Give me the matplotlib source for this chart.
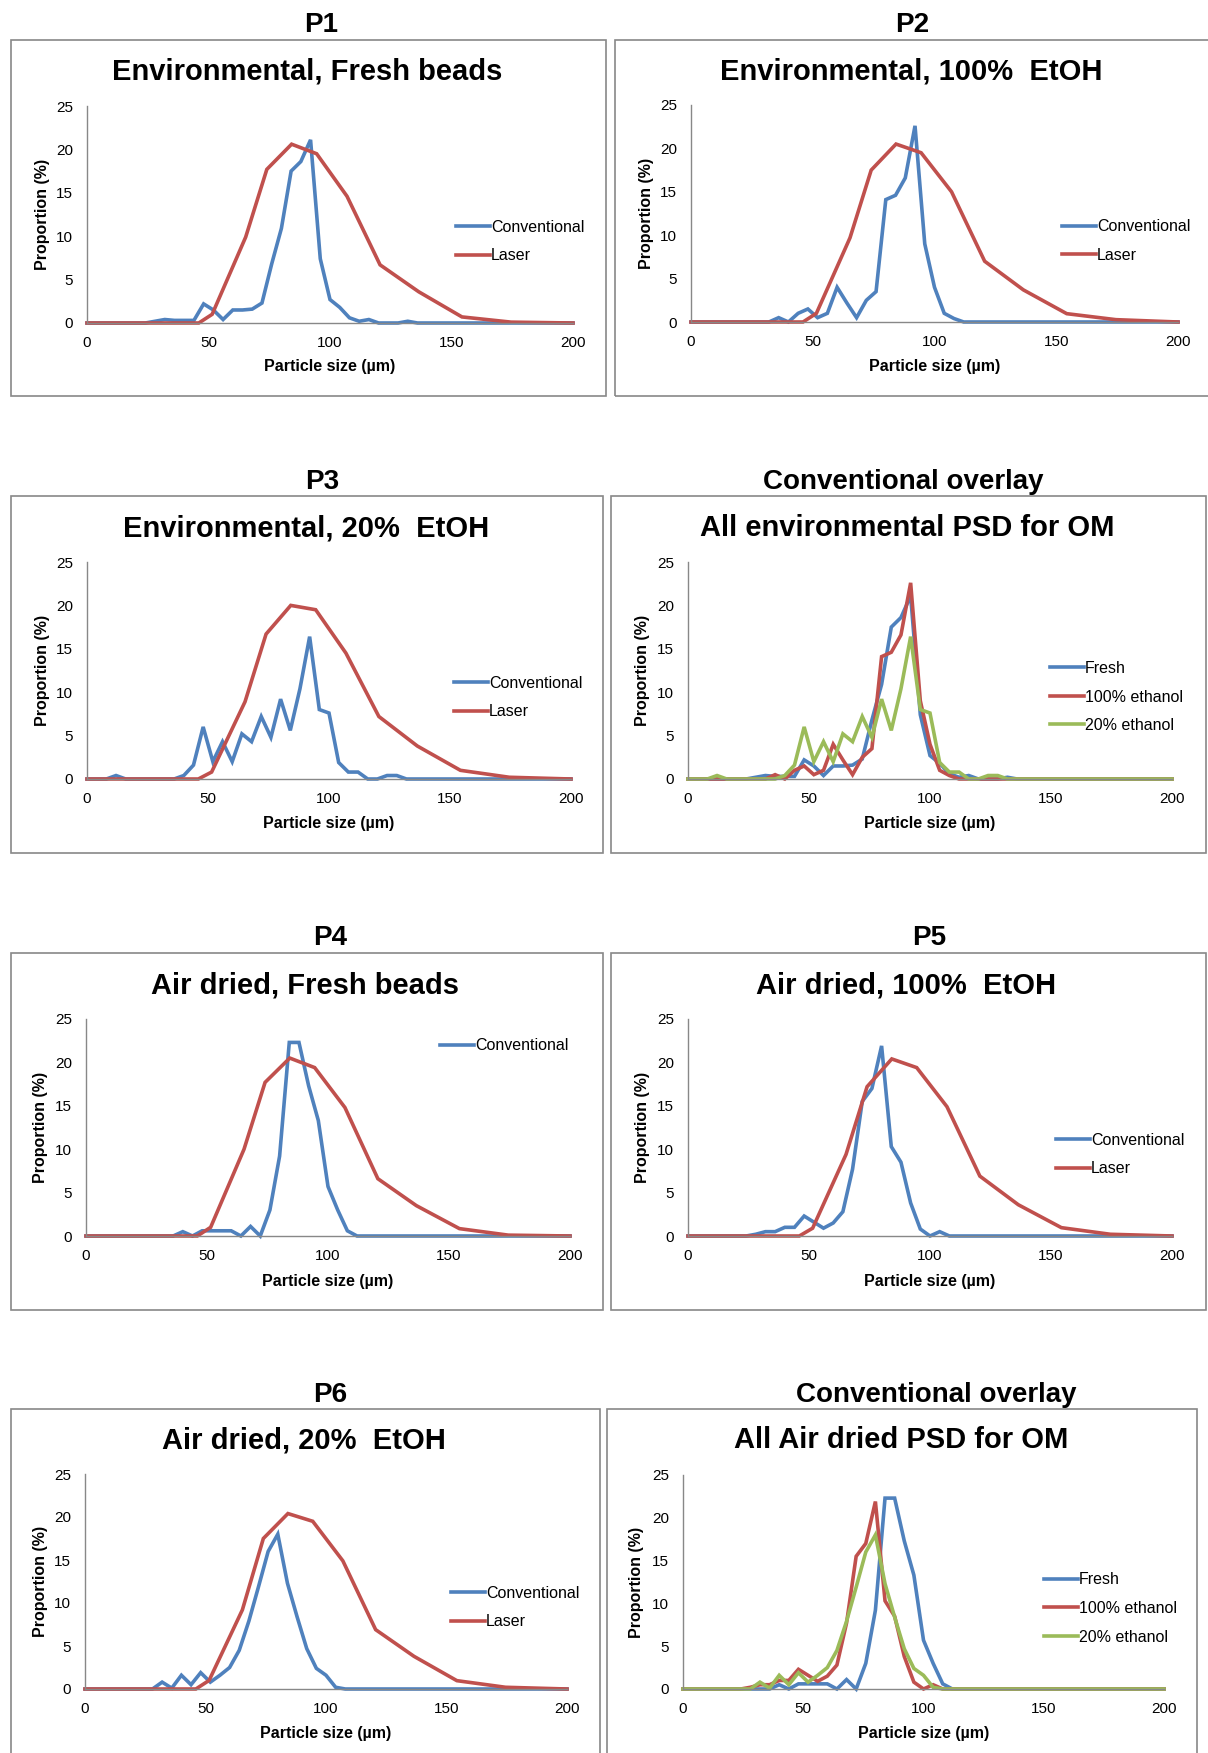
import numpy as np
import matplotlib
matplotlib.use("Agg")
import matplotlib.pyplot as plt
from matplotlib.patches import Rectangle

plt.rcParams["font.family"] = ["Liberation Sans", "DejaVu Sans"]

W, H = 1208, 1753

# Particle size grid of the conventional (optical microscopy) measurements, µm
conv_x = list(range(0, 201, 4))

# Conventional PSD (%), one value per 4 µm bin from 0 to 200 µm
conv_env_fresh = [0, 0, 0, 0, 0, 0, 0, 0.2, 0.4, 0.3, 0.3, 0.3, 2.2, 1.5, 0.4, 1.5, 1.5, 1.6,
                  2.3, 6.8, 10.9, 17.5, 18.6, 21.1, 7.4, 2.7, 1.8, 0.6, 0.2, 0.4, 0, 0, 0, 0.2,
                  0, 0, 0, 0, 0, 0, 0, 0, 0, 0, 0, 0, 0, 0, 0, 0, 0]
conv_env_100 = [0, 0, 0, 0, 0, 0, 0, 0, 0, 0.5, 0, 1.0, 1.5, 0.5, 1.0, 4.0, 2.2, 0.5,
                2.5, 3.5, 14.1, 14.6, 16.6, 22.6, 9.0, 4.0, 1.0, 0.4, 0, 0, 0, 0, 0, 0,
                0, 0, 0, 0, 0, 0, 0, 0, 0, 0, 0, 0, 0, 0, 0, 0, 0]
conv_env_20 = [0, 0, 0, 0.4, 0, 0, 0, 0, 0, 0, 0.4, 1.6, 6.0, 2.0, 4.3, 2.0, 5.2, 4.3,
               7.2, 4.8, 9.2, 5.6, 10.4, 16.4, 8.0, 7.6, 1.9, 0.8, 0.8, 0, 0, 0.4, 0.4, 0,
               0, 0, 0, 0, 0, 0, 0, 0, 0, 0, 0, 0, 0, 0, 0, 0, 0]
conv_air_fresh = [0, 0, 0, 0, 0, 0, 0, 0, 0, 0, 0.5, 0, 0.6, 0.6, 0.6, 0.6, 0, 1.1,
                  0, 3.0, 9.2, 22.3, 22.3, 17.3, 13.3, 5.7, 3.0, 0.6, 0, 0, 0, 0, 0, 0,
                  0, 0, 0, 0, 0, 0, 0, 0, 0, 0, 0, 0, 0, 0, 0, 0, 0]
conv_air_100 = [0, 0, 0, 0, 0, 0, 0, 0.2, 0.5, 0.5, 1.0, 1.0, 2.3, 1.6, 0.9, 1.5, 2.8, 7.7,
                15.5, 17.0, 21.9, 10.3, 8.5, 3.8, 0.8, 0, 0.5, 0, 0, 0, 0, 0, 0, 0,
                0, 0, 0, 0, 0, 0, 0, 0, 0, 0, 0, 0, 0, 0, 0, 0, 0]
conv_air_20 = [0, 0, 0, 0, 0, 0, 0, 0, 0.8, 0.1, 1.6, 0.5, 1.9, 0.8, 1.6, 2.5, 4.5, 7.9,
               11.9, 16.0, 18.0, 12.3, 8.4, 4.7, 2.4, 1.6, 0.2, 0, 0, 0, 0, 0, 0, 0,
               0, 0, 0, 0, 0, 0, 0, 0, 0, 0, 0, 0, 0, 0, 0, 0, 0]

# Laser diffraction PSD (%), log-spaced size classes
laser_x = [0, 46, 51.5, 65.3, 74, 84.2, 94.5, 107, 120.6, 136.5, 154.3, 174.5, 200]
laser_env_fresh = [0, 0, 1.0, 9.9, 17.7, 20.6, 19.5, 14.6, 6.7, 3.6, 0.7, 0.1, 0]
laser_env_100 = [0, 0, 1.0, 9.7, 17.5, 20.5, 19.5, 15.0, 7.0, 3.7, 0.96, 0.27, 0]
laser_env_20 = [0, 0, 0.8, 8.9, 16.7, 20.0, 19.5, 14.5, 7.2, 3.8, 1.0, 0.2, 0]
laser_air_fresh = [0, 0, 1.0, 10.0, 17.7, 20.5, 19.4, 14.8, 6.6, 3.5, 0.85, 0.1, 0]
laser_air_100 = [0, 0, 0.9, 9.4, 17.2, 20.4, 19.4, 14.9, 6.9, 3.6, 0.96, 0.2, 0]
laser_air_20 = [0, 0, 1.0, 9.2, 17.5, 20.4, 19.5, 14.9, 6.9, 3.8, 0.97, 0.2, 0]

BLUE, RED, GREEN = "#4F81BD", "#C0504D", "#9BBB59"
GREY = "#888888"

# panel geometry in pixels: header, frame, title, plot area, y-label x, x-label y, legend anchor
panels = [
    dict(head="P1", head_xy=(321, 22), box=(11, 40, 606, 396),
         title="Environmental, Fresh beads", title_xy=(307, 69),
         ax=(87, 106, 573, 323), ylab_x=42, xlab_y=365, leg=(456, 241.5),
         series=[(conv_x, conv_env_fresh, BLUE, "Conventional"),
                 (laser_x, laser_env_fresh, RED, "Laser")]),
    dict(head="P2", head_xy=(912, 22), box=(615, 40, 1230, 396),
         title="Environmental, 100%  EtOH", title_xy=(911, 69),
         ax=(691, 105, 1178, 322), ylab_x=646, xlab_y=365, leg=(1062, 241),
         series=[(conv_x, conv_env_100, BLUE, "Conventional"),
                 (laser_x, laser_env_100, RED, "Laser")]),
    dict(head="P3", head_xy=(322, 479), box=(11, 496, 603, 853),
         title="Environmental, 20%  EtOH", title_xy=(306, 526),
         ax=(87, 562, 571, 779), ylab_x=42, xlab_y=822, leg=(454, 697.5),
         series=[(conv_x, conv_env_20, BLUE, "Conventional"),
                 (laser_x, laser_env_20, RED, "Laser")]),
    dict(head="Conventional overlay", head_xy=(903, 479), box=(611, 496, 1206, 853),
         title="All environmental PSD for OM", title_xy=(907, 526),
         ax=(688, 562, 1172, 779), ylab_x=643, xlab_y=822, leg=(1050, 697),
         series=[(conv_x, conv_env_fresh, BLUE, "Fresh"),
                 (conv_x, conv_env_100, RED, "100% ethanol"),
                 (conv_x, conv_env_20, GREEN, "20% ethanol")]),
    dict(head="P4", head_xy=(330, 935), box=(11, 953, 603, 1310),
         title="Air dried, Fresh beads", title_xy=(305, 983),
         ax=(86, 1019, 570, 1236), ylab_x=41, xlab_y=1280, leg=(440, 1046),
         series=[(conv_x, conv_air_fresh, BLUE, "Conventional"),
                 (laser_x, laser_air_fresh, RED, "_nolegend_")]),
    dict(head="P5", head_xy=(929, 935), box=(611, 953, 1206, 1310),
         title="Air dried, 100%  EtOH", title_xy=(906, 983),
         ax=(688, 1019, 1172, 1236), ylab_x=643, xlab_y=1280, leg=(1056, 1154.5),
         series=[(conv_x, conv_air_100, BLUE, "Conventional"),
                 (laser_x, laser_air_100, RED, "Laser")]),
    dict(head="P6", head_xy=(330, 1392), box=(11, 1409, 600, 1775),
         title="Air dried, 20%  EtOH", title_xy=(304, 1438),
         ax=(85, 1474, 567, 1689), ylab_x=41, xlab_y=1732, leg=(451, 1607.5),
         series=[(conv_x, conv_air_20, BLUE, "Conventional"),
                 (laser_x, laser_air_20, RED, "Laser")]),
    dict(head="Conventional overlay", head_xy=(936, 1392), box=(607, 1409, 1197, 1775),
         title="All Air dried PSD for OM", title_xy=(901, 1438),
         ax=(683, 1475, 1164, 1689), ylab_x=637, xlab_y=1732, leg=(1044, 1608.5),
         series=[(conv_x, conv_air_fresh, BLUE, "Fresh"),
                 (conv_x, conv_air_100, RED, "100% ethanol"),
                 (conv_x, conv_air_20, GREEN, "20% ethanol")]),
]

HEAD_PT, TITLE_PT, LAB_PT, TICK_PT, LEG_PT = 20, 21, 11.5, 11, 11.5
px = lambda pt: pt * 100 / 72.0


def fx(x):
    return x / W


def fy(y):
    return 1 - y / H


fig = plt.figure(figsize=(W / 100, H / 100), dpi=100)
fig.patch.set_facecolor("white")

for p in panels:
    x0, y0, x1, y1 = p["box"]
    fig.add_artist(Rectangle((fx(x0), fy(y1)), fx(x1 - x0), (y1 - y0) / H,
                             transform=fig.transFigure, fill=False,
                             edgecolor=GREY, linewidth=1.2))
    hx, hy = p["head_xy"]
    fig.text(fx(hx), fy(hy + 0.358 * px(HEAD_PT)), p["head"], ha="center", va="baseline",
             fontsize=HEAD_PT, fontweight="bold")
    tx, ty = p["title_xy"]
    fig.text(fx(tx), fy(ty + 0.358 * px(TITLE_PT)), p["title"], ha="center", va="baseline",
             fontsize=TITLE_PT, fontweight="bold")

    ax0, ay0, ax1, ay1 = p["ax"]
    ax = fig.add_axes([fx(ax0), fy(ay1), (ax1 - ax0) / W, (ay1 - ay0) / H])
    for xs, ys, col, lab in p["series"]:
        ax.plot(xs, ys, color=col, lw=2.6, label=lab, solid_joinstyle="miter",
                clip_on=False)
    ax.set_xlim(0, 200)
    ax.set_ylim(0, 25)
    ax.set_xticks(np.arange(0, 201, 50))
    ax.set_yticks(np.arange(0, 26, 5))
    ax.tick_params(axis="both", length=0, labelsize=TICK_PT)
    ax.tick_params(axis="y", pad=10)
    ax.tick_params(axis="x", pad=9.5)
    for s in ("top", "right"):
        ax.spines[s].set_visible(False)
    for s in ("left", "bottom"):
        ax.spines[s].set_color(GREY)
        ax.spines[s].set_linewidth(1.0)
    ax.set_facecolor("none")

    fig.text(fx((ax0 + ax1) / 2), fy(p["xlab_y"] + 0.36 * px(LAB_PT)), "Particle size (µm)",
             ha="center", va="baseline", fontsize=LAB_PT, fontweight="bold")
    fig.text(fx(p["ylab_x"]), fy((ay0 + ay1) / 2), "Proportion (%)", rotation=90,
             ha="center", va="center", fontsize=LAB_PT, fontweight="bold")

    lx, ly = p["leg"]
    ax.legend(loc="center left", bbox_to_anchor=(fx(lx), fy(ly)),
              bbox_transform=fig.transFigure, frameon=False, fontsize=LEG_PT,
              handlelength=2.1, handletextpad=0.1, labelspacing=0.85,
              borderpad=0, borderaxespad=0)

fig.savefig("out.png", dpi=100, facecolor="white")
